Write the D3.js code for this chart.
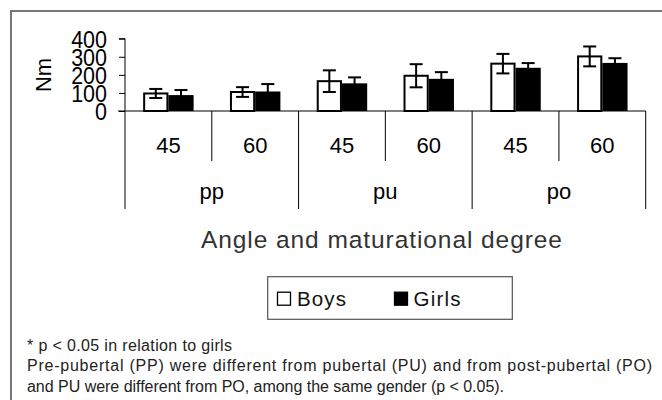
<!DOCTYPE html>
<html>
<head>
<meta charset="utf-8">
<script src="https://cdn.jsdelivr.net/npm/d3@7"></script>
<style>
  html, body { margin: 0; padding: 0; background: #fff; }
  svg { display: block; }
  text { font-family: "Liberation Sans", Arial, Helvetica, sans-serif; }
</style>
</head>
<body>
<svg id="chart" width="662" height="400"></svg>
<script>
// ---- data ----
const angles = ["45", "60", "45", "60", "45", "60"];
const groups = ["pp", "pu", "po"];
const series = ["Boys", "Girls"];
const boys = [97, 105, 165, 195, 262, 302];
const boysErr = [25, 27, 60, 64, 54, 55];
const girls = [88, 108, 153, 178, 239, 266];
const girlsErr = [28, 41, 33, 37, 26, 26];
const yTicks = [0, 100, 200, 300, 400];
const footnotes = [
  "* p < 0.05 in relation to girls",
  "Pre-pubertal (PP) were different from pubertal (PU) and from post-pubertal (PO)",
  "and PU were different from PO, among the same gender (p < 0.05)."
];

const svg = d3.select("#chart");

// outer frame
svg.append("rect")
  .attr("x", 11).attr("y", 11)
  .attr("width", 720).attr("height", 460)
  .attr("fill", "none").attr("stroke", "#777").attr("stroke-width", 2);

const catKeys = angles.map((a, i) => i);
const x0 = d3.scaleBand().domain(catKeys).range([125, 645.7]).padding(0);
const x1 = d3.scaleBand().domain(series).range([0, x0.bandwidth()]).paddingInner(0).paddingOuter(0.72);
const y = d3.scaleLinear().domain([0, 400]).range([111, 38.7]);

const rows = catKeys.map(i => ({
  i,
  vals: [
    { s: "Boys", v: boys[i], e: boysErr[i] },
    { s: "Girls", v: girls[i], e: girlsErr[i] }
  ]
}));

// bars
const g = svg.append("g");
const cat = g.selectAll("g.cat").data(rows).join("g")
  .attr("transform", d => `translate(${x0(d.i)},0)`);

cat.selectAll("rect").data(d => d.vals).join("rect")
  .attr("x", d => x1(d.s) + (d.s === "Boys" ? 1 : 0))
  .attr("y", d => y(d.v))
  .attr("width", d => x1.bandwidth() - (d.s === "Boys" ? 2 : 0))
  .attr("height", d => y(0) - y(d.v))
  .attr("fill", d => d.s === "Boys" ? "#fff" : "#000")
  .attr("stroke", "#000")
  .attr("stroke-width", d => d.s === "Boys" ? 2 : 0);

// error bars
const eb = cat.selectAll("g.err").data(d => d.vals).join("g")
  .attr("transform", d => `translate(${x1(d.s) + x1.bandwidth() / 2},0)`);
eb.append("line")
  .attr("x1", 0).attr("x2", 0)
  .attr("y1", d => y(d.v + d.e)).attr("y2", d => y(d.v - d.e))
  .attr("stroke", "#000").attr("stroke-width", 2);
eb.append("line")
  .attr("x1", -6.5).attr("x2", 6.5)
  .attr("y1", d => y(d.v + d.e)).attr("y2", d => y(d.v + d.e))
  .attr("stroke", "#000").attr("stroke-width", 2);
eb.append("line")
  .attr("x1", -6.5).attr("x2", 6.5)
  .attr("y1", d => y(d.v - d.e)).attr("y2", d => y(d.v - d.e))
  .attr("stroke", "#000").attr("stroke-width", 2);

// y axis
const yAxis = d3.axisLeft(y).tickValues(yTicks).tickSize(6).tickPadding(12).tickFormat(d3.format("d"));
const ya = svg.append("g").attr("transform", "translate(125,0)").call(yAxis);
ya.select(".domain").attr("stroke", "#000").attr("d", `M-6,${y(400)}H0V${y(0)}`);
ya.selectAll(".tick line").attr("stroke", "#000");
ya.selectAll(".tick text")
  .attr("font-size", 21.5).attr("fill", "#000")
  .attr("font-family", '"Liberation Sans", Arial, sans-serif')
  .attr("dy", "0.36em")
  .attr("transform", "scale(1,1.12)");

// zero baseline
svg.append("line")
  .attr("x1", 118).attr("x2", x0.range()[1])
  .attr("y1", y(0)).attr("y2", y(0))
  .attr("stroke", "#000").attr("stroke-width", 1);

// category separators
const bounds = d3.range(angles.length + 1).map(i => i === angles.length ? x0.range()[1] : x0(i));
svg.selectAll("line.sep").data(bounds).join("line")
  .attr("x1", d => d).attr("x2", d => d)
  .attr("y1", y(0)).attr("y2", (d, i) => i % 2 === 0 ? 209 : 161)
  .attr("stroke", "#000").attr("stroke-width", 1);

// angle labels
svg.selectAll("text.ang").data(angles).join("text")
  .attr("x", (d, i) => x0(i) + x0.bandwidth() / 2)
  .attr("y", 152.5)
  .attr("text-anchor", "middle")
  .attr("font-size", 22)
  .text(d => d);

// group labels
svg.selectAll("text.grp").data(groups).join("text")
  .attr("x", (d, i) => (x0(i * 2) + bounds[i * 2 + 2]) / 2)
  .attr("y", 199)
  .attr("text-anchor", "middle")
  .attr("font-size", 22)
  .text(d => d);

// y title
svg.append("text")
  .attr("transform", "translate(51,75) rotate(-90)")
  .attr("text-anchor", "middle")
  .attr("font-size", 22)
  .text("Nm");

// x title
svg.append("text")
  .attr("x", 201).attr("y", 248)
  .attr("font-size", 24.5)
  .attr("fill", "#333")
  .attr("textLength", 361).attr("lengthAdjust", "spacing")
  .text("Angle and maturational degree");

// legend
const lg = svg.append("g");
lg.append("rect")
  .attr("x", 267.7).attr("y", 276.7).attr("width", 244.6).attr("height", 42.6)
  .attr("fill", "#fff").attr("stroke", "#555").attr("stroke-width", 1.2);
const legItems = [
  { s: series[0], sx: 277.5, tx: 297, tl: 49 },
  { s: series[1], sx: 394.5, tx: 413.5, tl: 47 }
];
lg.selectAll("rect.sw").data(legItems).join("rect")
  .attr("x", d => d.sx).attr("y", 292.2).attr("width", 13).attr("height", 13)
  .attr("fill", d => d.s === "Boys" ? "#fff" : "#000")
  .attr("stroke", "#000").attr("stroke-width", 1.3);
lg.selectAll("text.lt").data(legItems).join("text")
  .attr("x", d => d.tx).attr("y", 306)
  .attr("font-size", 20.5)
  .attr("fill", "#111")
  .attr("textLength", d => d.tl).attr("lengthAdjust", "spacing")
  .text(d => d.s);

// footnotes
const fnLen = [205, 625, 477];
const fnY = [351, 371, 392];
svg.selectAll("text.fn").data(footnotes).join("text")
  .attr("x", 27).attr("y", (d, i) => fnY[i])
  .attr("font-size", 16)
  .attr("fill", "#222")
  .attr("textLength", (d, i) => fnLen[i]).attr("lengthAdjust", "spacing")
  .text(d => d);
</script>
</body>
</html>
